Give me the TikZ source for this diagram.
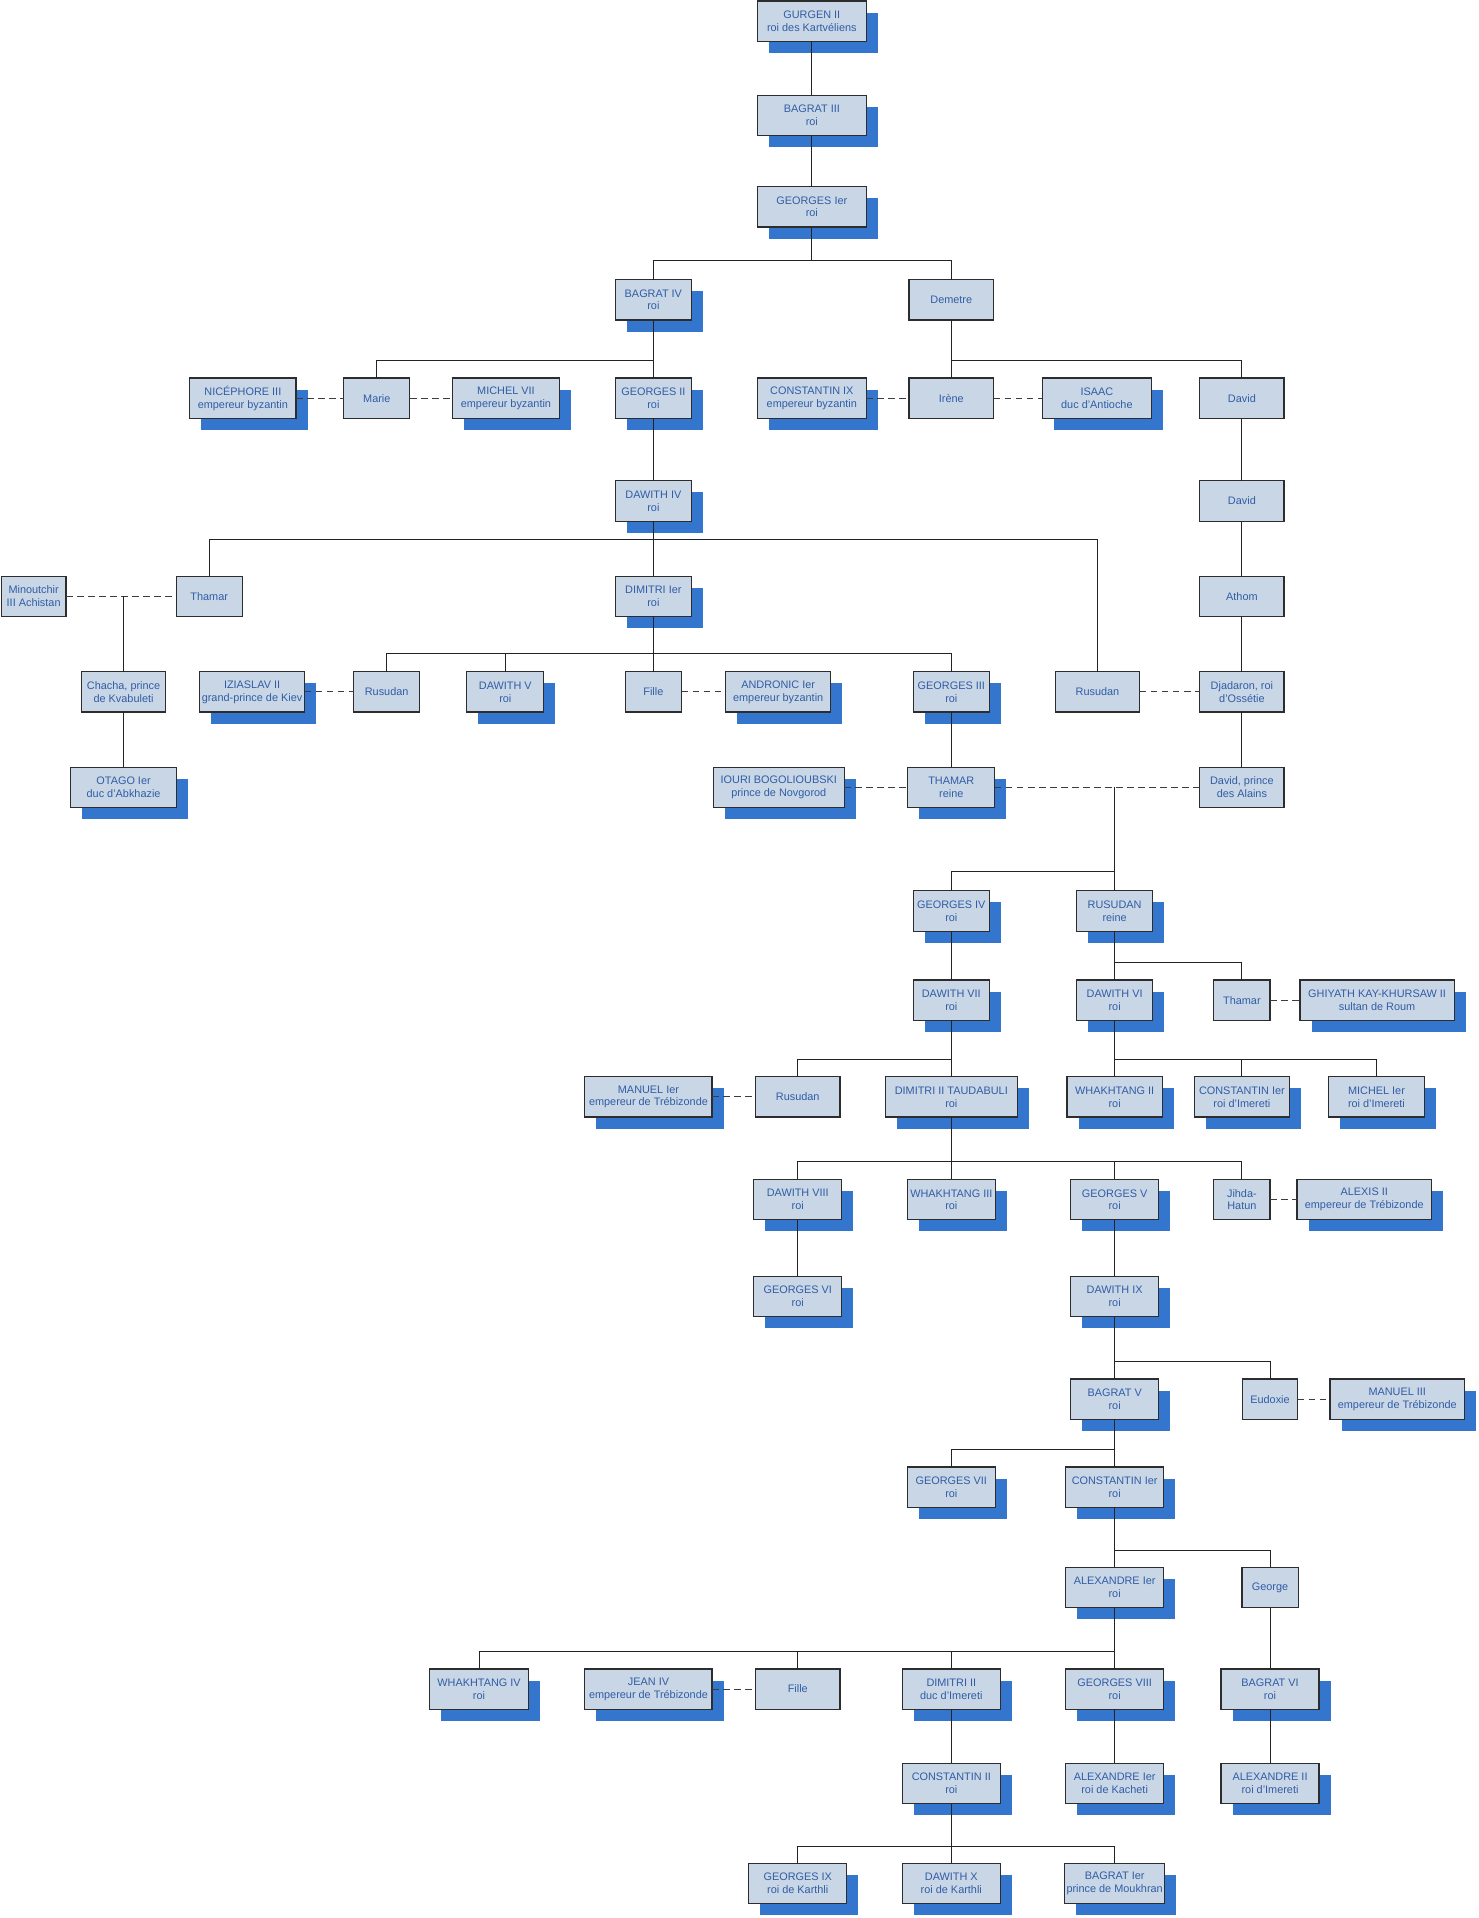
\documentclass[tikz,border=0pt]{standalone}
\usepackage{fontspec}
\setmainfont{Liberation Sans}
\usetikzlibrary{shadows}
\definecolor{boxfill}{RGB}{201,214,230}
\definecolor{bordc}{RGB}{45,45,45}
\definecolor{shadc}{RGB}{52,118,205}
\definecolor{txtc}{RGB}{48,93,165}
\definecolor{linec}{RGB}{35,35,35}
\definecolor{marc}{RGB}{60,60,60}
\tikzset{
  box/.style={draw=bordc, line width=1pt, fill=boxfill, text=txtc,
    font=\fontsize{8.9}{10.5}\selectfont, align=center, inner sep=1pt,
    minimum height=33pt, outer sep=0pt},
  shb/.style={box, drop shadow={shadow xshift=9.5pt, shadow yshift=-9.5pt, fill=shadc, opacity=1}},
  plainb/.style={box},
  tl/.style={draw=linec, line width=0.8pt},
  marr/.style={draw=marc, line width=0.8pt, dash pattern=on 5.5pt off 3.5pt},
}
\newcommand{\pers}[6]{\node[#5, minimum width=#4pt] (#1) at (#2,#3) {#6};}
\begin{document}
\begin{tikzpicture}[x=1pt, y=-1pt]
\useasboundingbox (0,0) rectangle (1208,1567.6);
% row 0-2
\pers{gurgen}{663.5}{17.3}{89}{shb}{GURGEN II\\roi des Kartvéliens}
\pers{bagrat3}{663.5}{94.5}{89}{shb}{BAGRAT III\\roi}
\pers{georges1}{663.5}{169}{89}{shb}{GEORGES Ier\\roi}
% row 3
\pers{bagrat4}{534}{245}{62}{shb}{BAGRAT IV\\roi}
\pers{demetre}{777.5}{245}{69}{plainb}{Demetre}
% row 4
\pers{niceph}{198.5}{325.5}{87}{shb}{NICÉPHORE III\\empereur byzantin}
\pers{marie}{308}{325.5}{54}{plainb}{Marie}
\pers{michel7}{413.5}{325.5}{87}{shb}{MICHEL VII\\empereur byzantin}
\pers{georges2}{534}{325.5}{62}{shb}{GEORGES II\\roi}
\pers{const9}{663.5}{325.5}{89}{shb}{CONSTANTIN IX\\empereur byzantin}
\pers{irene}{777.5}{325.5}{69}{plainb}{Irène}
\pers{isaac}{896.5}{325.5}{89}{shb}{ISAAC\\duc d’Antioche}
\pers{david1}{1015}{325.5}{69}{plainb}{David}
% row 5
\pers{dawith4}{534}{409.5}{62}{shb}{DAWITH IV\\roi}
\pers{david2}{1015}{409.5}{69}{plainb}{David}
% row 6
\pers{mino}{27.5}{487.5}{53}{plainb}{Minoutchir\\III Achistan}
\pers{thamar1}{171}{487.5}{54}{plainb}{Thamar}
\pers{dimitri1}{534}{487.5}{62}{shb}{DIMITRI Ier\\roi}
\pers{athom}{1015}{487.5}{69}{plainb}{Athom}
% row 7
\pers{chacha}{101}{565.5}{69}{plainb}{Chacha, prince\\de Kvabuleti}
\pers{iziaslav}{206}{565.5}{86}{shb}{IZIASLAV II\\grand-prince de Kiev}
\pers{rusudan1}{316}{565.5}{54}{plainb}{Rusudan}
\pers{dawith5}{413}{565.5}{63}{shb}{DAWITH V\\roi}
\pers{fille1}{534}{565.5}{46}{plainb}{Fille}
\pers{andronic}{636}{565.5}{86}{shb}{ANDRONIC Ier\\empereur byzantin}
\pers{georges3}{777.5}{565.5}{62}{shb}{GEORGES III\\roi}
\pers{rusudan2}{897}{565.5}{69}{plainb}{Rusudan}
\pers{djadaron}{1015}{565.5}{69}{plainb}{Djadaron, roi\\d’Ossétie}
% row 8
\pers{otago}{101}{643.5}{87}{shb}{OTAGO Ier\\duc d’Abkhazie}
\pers{iouri}{636.5}{643.5}{107}{shb}{IOURI BOGOLIOUBSKI\\prince de Novgorod}
\pers{thamar2}{777.5}{643.5}{71}{shb}{THAMAR\\reine}
\pers{davidpa}{1015}{643.5}{69}{plainb}{David, prince\\des Alains}
% row 9
\pers{georges4}{777.5}{744.5}{62}{shb}{GEORGES IV\\roi}
\pers{rusudan3}{911}{744.5}{62}{shb}{RUSUDAN\\reine}
% row 10
\pers{dawith7}{777.5}{817.5}{62}{shb}{DAWITH VII\\roi}
\pers{dawith6}{911}{817.5}{62}{shb}{DAWITH VI\\roi}
\pers{thamar3}{1015}{817.5}{46}{plainb}{Thamar}
\pers{ghiyath}{1125.5}{817.5}{126}{shb}{GHIYATH KAY-KHURSAW II\\sultan de Roum}
% row 11
\pers{manuel1}{530}{896.5}{104}{shb}{MANUEL Ier\\empereur de Trébizonde}
\pers{rusudan4}{652}{896.5}{69}{plainb}{Rusudan}
\pers{dimitri2t}{777.5}{896.5}{108}{shb}{DIMITRI II TAUDABULI\\roi}
\pers{whakh2}{911}{896.5}{78}{shb}{WHAKHTANG II\\roi}
\pers{const1i}{1015}{896.5}{78}{shb}{CONSTANTIN Ier\\roi d’Imereti}
\pers{michel1}{1125}{896.5}{78}{shb}{MICHEL Ier\\roi d’Imereti}
% row 12
\pers{dawith8}{652}{980.5}{72}{shb}{DAWITH VIII\\roi}
\pers{whakh3}{777.5}{980.5}{72}{shb}{WHAKHTANG III\\roi}
\pers{georges5}{911}{980.5}{72}{shb}{GEORGES V\\roi}
\pers{jihda}{1015}{980.5}{46}{plainb}{Jihda-\\Hatun}
\pers{alexis2}{1115}{980.5}{110}{shb}{ALEXIS II\\empereur de Trébizonde}
% row 13
\pers{georges6}{652}{1059.5}{72}{shb}{GEORGES VI\\roi}
\pers{dawith9}{911}{1059.5}{72}{shb}{DAWITH IX\\roi}
% row 14
\pers{bagrat5}{911}{1143.5}{72}{shb}{BAGRAT V\\roi}
\pers{eudoxie}{1038}{1143.5}{45}{plainb}{Eudoxie}
\pers{manuel3}{1142}{1143.5}{110}{shb}{MANUEL III\\empereur de Trébizonde}
% row 15
\pers{georges7}{777.5}{1215.5}{72}{shb}{GEORGES VII\\roi}
\pers{const1}{911}{1215.5}{80}{shb}{CONSTANTIN Ier\\roi}
% row 16
\pers{alex1}{911}{1297.5}{80}{shb}{ALEXANDRE Ier\\roi}
\pers{george}{1038}{1297.5}{46}{plainb}{George}
% row 17
\pers{whakh4}{391.5}{1380.5}{81}{shb}{WHAKHTANG IV\\roi}
\pers{jean4}{530}{1380.5}{104}{shb}{JEAN IV\\empereur de Trébizonde}
\pers{fille2}{652}{1380.5}{69}{plainb}{Fille}
\pers{dimitri2}{777.5}{1380.5}{80}{shb}{DIMITRI II\\duc d’Imereti}
\pers{georges8}{911}{1380.5}{80}{shb}{GEORGES VIII\\roi}
\pers{bagrat6}{1038}{1380.5}{80}{shb}{BAGRAT VI\\roi}
% row 18
\pers{const2}{777.5}{1457.5}{80}{shb}{CONSTANTIN II\\roi}
\pers{alex1k}{911}{1457.5}{80}{shb}{ALEXANDRE Ier\\roi de Kacheti}
\pers{alex2}{1038}{1457.5}{80}{shb}{ALEXANDRE II\\roi d’Imereti}
% row 19
\pers{georges9}{652}{1539.5}{80}{shb}{GEORGES IX\\roi de Karthli}
\pers{dawith10}{777.5}{1539.5}{80}{shb}{DAWITH X\\roi de Karthli}
\pers{bagrat1}{911}{1539.5}{82}{shb}{BAGRAT Ier\\prince de Moukhran}

% bar levels
\coordinate (b1) at (0,213);
\coordinate (b2) at (0,295);
\coordinate (b4) at (0,441);
\coordinate (b5) at (0,534);
\coordinate (b6) at (0,712);
\coordinate (b7) at (0,787);
\coordinate (b8) at (0,866);
\coordinate (b10) at (0,949);
\coordinate (b11) at (0,1113);
\coordinate (b12) at (0,1185);
\coordinate (b13) at (0,1267);
\coordinate (b14) at (0,1350);
\coordinate (b15) at (0,1509);

% straight descents
\draw[tl] (gurgen.south) -- (bagrat3.north);
\draw[tl] (bagrat3.south) -- (georges1.north);
\draw[tl] (georges2.south) -- (dawith4.north);
\draw[tl] (david1.south) -- (david2.north);
\draw[tl] (david2.south) -- (athom.north);
\draw[tl] (athom.south) -- (djadaron.north);
\draw[tl] (djadaron.south) -- (davidpa.north);
\draw[tl] (chacha.south) -- (otago.north);
\draw[tl] (georges3.south) -- (thamar2.north);
\draw[tl] (georges4.south) -- (dawith7.north);
\draw[tl] (dawith8.south) -- (georges6.north);
\draw[tl] (georges5.south) -- (dawith9.north);
\draw[tl] (george.south) -- (bagrat6.north);
\draw[tl] (bagrat6.south) -- (alex2.north);
\draw[tl] (dimitri2.south) -- (const2.north);
\draw[tl] (georges8.south) -- (alex1k.north);

% families
\draw[tl] (georges1.south) -- (georges1.south |- b1);
\draw[tl] (bagrat4.north) |- (demetre.north |- b1) -- (demetre.north);

\draw[tl] (bagrat4.south) -- (bagrat4.south |- b2);
\draw[tl] (marie.north) |- (georges2.north |- b2) -- (georges2.north);

\draw[tl] (demetre.south) -- (demetre.south |- b2);
\draw[tl] (irene.north) |- (david1.north |- b2) -- (david1.north);

\draw[tl] (dawith4.south) -- (dawith4.south |- b4);
\draw[tl] (thamar1.north) |- (rusudan2.north |- b4) -- (rusudan2.north);
\draw[tl] (dimitri1.north) -- (dimitri1.north |- b4);

\draw[tl] (dimitri1.south) -- (dimitri1.south |- b5);
\draw[tl] (rusudan1.north) |- (georges3.north |- b5) -- (georges3.north);
\draw[tl] (dawith5.north) -- (dawith5.north |- b5);
\draw[tl] (fille1.north) -- (fille1.north |- b5);

\draw[tl] (rusudan3.north |- thamar2.east) -- (rusudan3.north |- b6);
\draw[tl] (georges4.north) |- (rusudan3.north |- b6) -- (rusudan3.north);

\draw[tl] (rusudan3.south) -- (rusudan3.south |- b7);
\draw[tl] (dawith6.north) |- (thamar3.north |- b7) -- (thamar3.north);

\draw[tl] (dawith7.south) -- (dawith7.south |- b8);
\draw[tl] (rusudan4.north) |- (dimitri2t.north |- b8) -- (dimitri2t.north);

\draw[tl] (dawith6.south) -- (dawith6.south |- b8);
\draw[tl] (whakh2.north) |- (michel1.north |- b8) -- (michel1.north);
\draw[tl] (const1i.north) -- (const1i.north |- b8);

\draw[tl] (dimitri2t.south) -- (dimitri2t.south |- b10);
\draw[tl] (dawith8.north) |- (jihda.north |- b10) -- (jihda.north);
\draw[tl] (whakh3.north) -- (whakh3.north |- b10);
\draw[tl] (georges5.north) -- (georges5.north |- b10);

\draw[tl] (dawith9.south) -- (dawith9.south |- b11);
\draw[tl] (bagrat5.north) |- (eudoxie.north |- b11) -- (eudoxie.north);

\draw[tl] (bagrat5.south) -- (bagrat5.south |- b12);
\draw[tl] (georges7.north) |- (const1.north |- b12) -- (const1.north);

\draw[tl] (const1.south) -- (const1.south |- b13);
\draw[tl] (alex1.north) |- (george.north |- b13) -- (george.north);

\draw[tl] (alex1.south) -- (alex1.south |- b14);
\draw[tl] (whakh4.north) |- (georges8.north |- b14) -- (georges8.north);
\draw[tl] (fille2.north) -- (fille2.north |- b14);
\draw[tl] (dimitri2.north) -- (dimitri2.north |- b14);

\draw[tl] (const2.south) -- (const2.south |- b15);
\draw[tl] (georges9.north) |- (bagrat1.north |- b15) -- (bagrat1.north);
\draw[tl] (dawith10.north) -- (dawith10.north |- b15);

% marriages
\draw[marr] (niceph.east) -- (marie.west);
\draw[marr] (marie.east) -- (michel7.west);
\draw[marr] (const9.east) -- (irene.west);
\draw[marr] (irene.east) -- (isaac.west);
\draw[marr] (mino.east) -- (thamar1.west);
\draw[tl] (chacha.north |- mino.east) -- (chacha.north);
\draw[marr] (iziaslav.east) -- (rusudan1.west);
\draw[marr] (fille1.east) -- (andronic.west);
\draw[marr] (rusudan2.east) -- (djadaron.west);
\draw[marr] (iouri.east) -- (thamar2.west);
\draw[marr] (thamar2.east) -- (davidpa.west);
\draw[marr] (thamar3.east) -- (ghiyath.west);
\draw[marr] (manuel1.east) -- (rusudan4.west);
\draw[marr] (jihda.east) -- (alexis2.west);
\draw[marr] (eudoxie.east) -- (manuel3.west);
\draw[marr] (jean4.east) -- (fille2.west);
\end{tikzpicture}
\end{document}
